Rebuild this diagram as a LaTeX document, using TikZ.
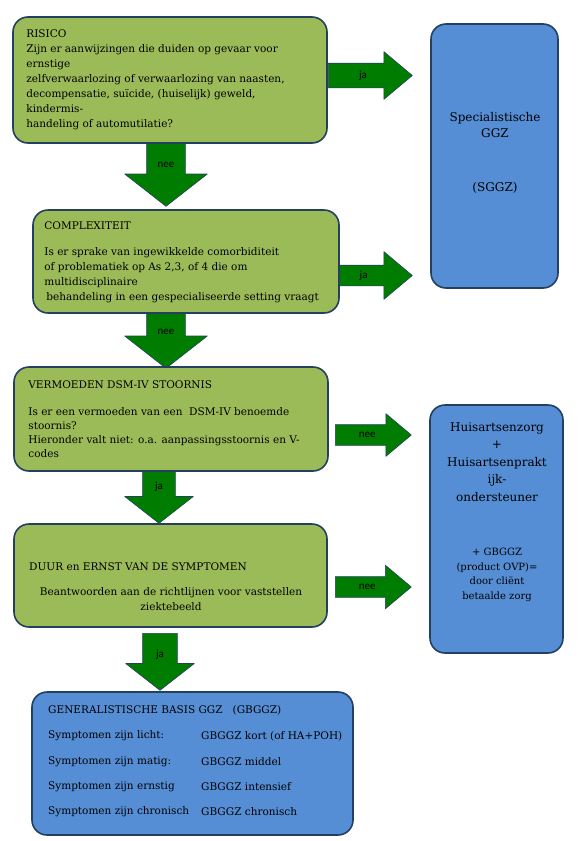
\documentclass[tikz,border=0pt]{standalone}
\usepackage{fontspec}
\setmainfont{DejaVu Serif}
\newfontfamily\pijlfont{Carlito}
\usetikzlibrary{shapes.arrows}
\definecolor{olijf}{RGB}{155,187,89}
\definecolor{hemel}{RGB}{85,142,213}
\definecolor{rand}{RGB}{36,64,97}
\definecolor{pijlgroen}{RGB}{0,125,0}
\tikzset{
  blok/.style={draw=rand,line width=1.6pt,rounded corners=15pt},
  groen/.style={blok,fill=olijf},
  blauw/.style={blok,fill=hemel},
  tekst/.style={inner sep=0pt,font=\fontsize{10.5}{15}\selectfont},
  pijl/.style={single arrow,draw=rand,line width=0.6pt,fill=pijlgroen,inner sep=0pt,
    text height=7pt,text depth=2pt,anchor=tail,font=\pijlfont\fontsize{11}{12}\selectfont},
  pijlrechts/.style={pijl,single arrow tip angle=80},
  pijlomlaag/.style={pijl,shape border rotate=270,single arrow tip angle=104,align=center}
}
\begin{document}
\begin{tikzpicture}[x=1pt,y=-1pt,line join=round]
\useasboundingbox (0,0) rectangle (579,841);

% pijlen
\node[pijlrechts,minimum height=84pt,minimum width=47pt,inner ysep=7.5pt,single arrow head extend=11.5pt] (ja1) at (328,75.5) {ja};
\node[pijlrechts,minimum height=85pt,minimum width=47pt,inner ysep=5.5pt,single arrow head extend=13.5pt] (ja2) at (327,275.5) {ja};
\node[pijlrechts,minimum height=76pt,minimum width=42pt,inner ysep=5.5pt,single arrow head extend=11pt] (nee3) at (335,435) {nee};
\node[pijlrechts,minimum height=76pt,minimum width=43pt,inner ysep=5.5pt,single arrow head extend=11.5pt] (nee4) at (335,587) {nee};
\node[pijlomlaag,minimum height=63pt,minimum width=82pt,text width=38pt,text depth=6pt,single arrow head extend=22pt] (nee1) at (166,143) {nee};
\node[pijlomlaag,minimum height=55pt,minimum width=82pt,text width=38pt,text depth=4pt,single arrow head extend=22pt] (nee2) at (166,313) {nee};
\node[pijlomlaag,minimum height=52pt,minimum width=68pt,text width=32pt,text depth=10pt,single arrow head extend=18pt] (ja3) at (159,471) {ja};
\node[pijlomlaag,minimum height=57pt,minimum width=68pt,text width=34pt,text depth=2pt,single arrow head extend=17pt] (ja4) at (160,633) {ja};

% blokken
\node[groen,minimum width=314pt,minimum height=126pt] (risico) at (170,80) {};
\node[tekst,anchor=west,align=left] (risicotekst) at ([xshift=14pt]risico.west)
  {RISICO\\Zijn er aanwijzingen die duiden op gevaar voor\\ernstige\\
   zelfverwaarlozing of verwaarlozing van naasten,\\
   decompensatie, suïcide, (huiselijk) geweld,\\kindermis-\\handeling of automutilatie?};

\node[groen,minimum width=306pt,minimum height=103pt] (complex) at (186,261.5) {};
\node[tekst,anchor=west,align=left] (complextekst) at ([xshift=12pt,yshift=-1pt]complex.west)
  {COMPLEXITEIT\\[11pt]Is er sprake van ingewikkelde comorbiditeit\\
   of problematiek op As 2,3, of 4 die om\\multidisciplinaire\\
   \hspace{2pt}behandeling in een gespecialiseerde setting vraagt};

\node[groen,minimum width=314pt,minimum height=104pt] (dsm) at (171,419) {};
\node[tekst,anchor=west,align=left,font=\fontsize{10.5}{14}\selectfont] (dsmtekst) at ([xshift=15pt]dsm.west)
  {VERMOEDEN DSM-IV STOORNIS\\[13pt]Is er een vermoeden van een \ DSM-IV benoemde\\
   stoornis?\\Hieronder valt niet: o.a. aanpassingsstoornis en V-\\codes};

\node[groen,minimum width=313pt,minimum height=103pt] (duur) at (170.5,575.5) {};
\node[tekst,anchor=west] (duurkop) at (29,567) {DUUR en ERNST VAN DE SYMPTOMEN};
\node[tekst,align=center] (duurtekst) at (171,599.5)
  {Beantwoorden aan de richtlijnen voor vaststellen\\ziektebeeld};

\node[blauw,minimum width=127pt,minimum height=264pt] (sggz) at (494.5,156) {};
\node[tekst,align=center,font=\fontsize{12}{16}\selectfont] (sggztekst) at (495,125) {Specialistische\\GGZ};
\node[tekst,font=\fontsize{12}{16}\selectfont] (sggzkort) at (495,188) {(SGGZ)};

\node[blauw,minimum width=133pt,minimum height=248pt] (huisarts) at (496.5,529) {};
\node[tekst,align=center,font=\fontsize{12}{17.5}\selectfont] (huisartstekst) at (497,462)
  {Huisartsenzorg\\+\\Huisartsenprakt\\ijk-\\ondersteuner};
\node[tekst,align=center,font=\fontsize{10}{14.7}\selectfont] (ovptekst) at (497,575)
  {+ GBGGZ\\(product OVP)=\\door cliënt\\betaalde zorg};

\node[blauw,minimum width=321pt,minimum height=143pt] (gbggz) at (192.5,763.5) {};
\node[tekst,anchor=west] (gbggzkop) at (48,710) {GENERALISTISCHE BASIS GGZ \ \ (GBGGZ)};
\foreach \y/\links/\rechts in {736/{Symptomen zijn licht:}/{GBGGZ kort (of HA+POH)},
    762/{Symptomen zijn matig:}/{GBGGZ middel},
    787/{Symptomen zijn ernstig}/{GBGGZ intensief},
    812/{Symptomen zijn chronisch}/{GBGGZ chronisch}}{
  \node[tekst,anchor=west] (symptoom\y) at (48,\y) {\links};
  \node[tekst,anchor=west] (zorg\y) at (201,\y) {\rechts};
}
\end{tikzpicture}
\end{document}
